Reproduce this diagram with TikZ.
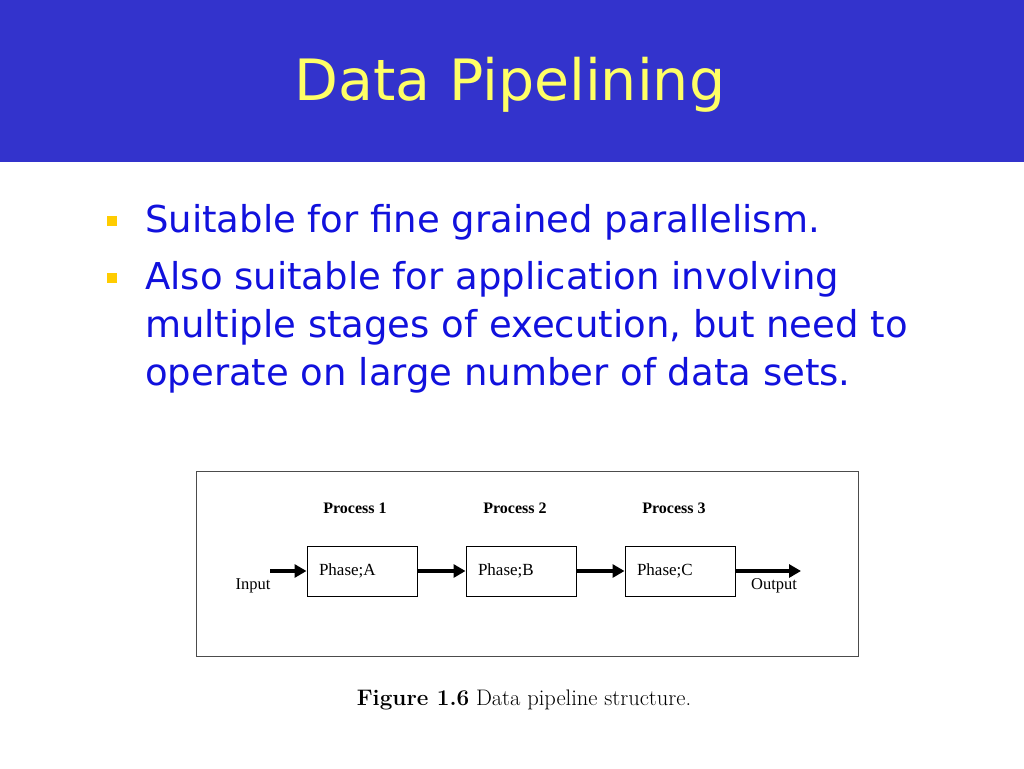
\documentclass[tikz,border=0pt]{standalone}
\usepackage{fontspec}
\newfontfamily\slidefont{DejaVu Sans}
\newfontfamily\figfont{Liberation Serif}
\usetikzlibrary{positioning, arrows.meta}
\definecolor{bandblue}{HTML}{3333CC}
\definecolor{titleyellow}{HTML}{FFFF66}
\definecolor{textblue}{HTML}{1111DD}
\definecolor{bulletgold}{HTML}{FFCC00}
\tikzset{
    title/.style={font=\slidefont\fontsize{57}{63}\selectfont, color=titleyellow, anchor=base},
    bullet/.style={fill=bulletgold, inner sep=0pt, minimum size=10pt},
    btext/.style={font=\slidefont\fontsize{37}{44}\selectfont, color=textblue, anchor=base west, inner sep=0pt},
    phase/.style={draw, line width=1pt, minimum height=50pt, text width=86pt, inner xsep=12pt, align=left, font=\figfont\fontsize{17}{19}\selectfont},
    proc/.style={font=\figfont\bfseries\fontsize{16}{18}\selectfont},
    io/.style={font=\figfont\fontsize{16.5}{18}\selectfont},
    flow/.style={-{Triangle[length=12pt, width=13pt]}, line width=4pt}
}

\begin{document}
\begin{tikzpicture}[x=1pt, y=-1pt]
        \useasboundingbox[fill=white] (0,0) rectangle (1024,768);
        % Title band
        \fill[bandblue] (0,0) rectangle (1024,162);
        \node[title] (head) at (510,100) {Data Pipelining};

        % Bullet points
        \node[bullet] (b1) at (112,221) {};
        \node[btext] (l1) at (145,232) {Suitable for fine grained parallelism.};
        \node[bullet] (b2) at (112,278) {};
        \node[btext] (l2) at (145,289) {Also suitable for application involving};
        \node[btext] (l3) at (145,337) {multiple stages of execution, but need to};
        \node[btext] (l4) at (145,385) {operate on large number of data sets.};

        % Figure frame
        \draw[line width=1pt, black!70] (196,471) rectangle (858,656);

        % Pipeline stages
        \node[phase] (A) at (362,571) {Phase;A};
        \node[phase, right=48pt of A] (B) {Phase;B};
        \node[phase, right=48pt of B] (C) {Phase;C};
        \node[proc] (p1) at (355,508) {Process 1};
        \node[proc] (p2) at (515,508) {Process 2};
        \node[proc] (p3) at (674,508) {Process 3};

        % Input and output
        \coordinate (in) at (270,571);
        \coordinate (out) at (801,571);
        \node[io] (inlab) at (253,586) {Input};
        \node[io] (outlab) at (774,586) {Output};
        \draw[flow] (in) -- (A.west |- in);
        \draw[flow] (A.east |- in) -- (B.west |- in);
        \draw[flow] (B.east |- in) -- (C.west |- in);
        \draw[flow] (C.east |- in) -- (out);

        % Caption
        \node[font=\fontsize{22.5}{26}\selectfont] (cap) at (524,700) {\textbf{Figure 1.6} Data pipeline structure.};
    \end{tikzpicture}
\end{document}
